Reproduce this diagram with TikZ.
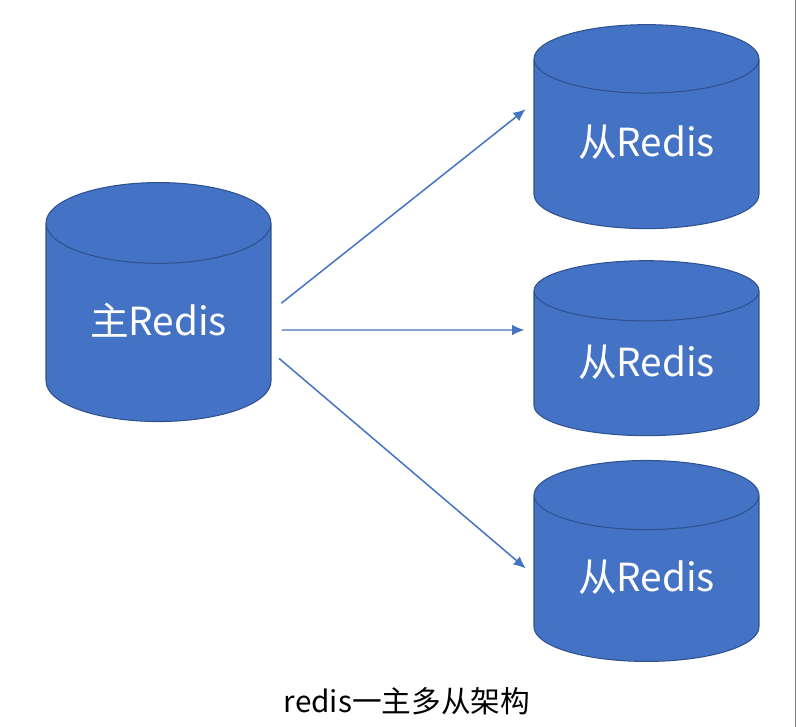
\documentclass[tikz,border=0pt]{standalone}
\usepackage{fontspec}
\setmainfont{Noto Sans CJK SC}
\usetikzlibrary{shapes.geometric}
\usetikzlibrary{arrows.meta}
\usetikzlibrary{calc}
\definecolor{dbfill}{RGB}{68,114,196}
\definecolor{dbline}{RGB}{47,82,143}
\definecolor{rimline}{RGB}{128,128,128}
\tikzset{
    dbnode/.style={cylinder, shape border rotate=90, draw=dbline, line width=0.6pt,
        cylinder uses custom fill, cylinder body fill=dbfill, cylinder end fill=dbfill,
        minimum width=4.5cm, text=white, font=\fontsize{22}{26}\selectfont, inner sep=0pt,
        text height=16pt, text depth=1.5pt},
    link/.style={draw=dbfill, line width=0.85pt, -{Latex[length=7pt,width=6pt]}, shorten <=0.2cm, shorten >=0.2cm},
}
\begin{document}
\begin{tikzpicture}[x=0.02cm, y=-0.02cm]
    \useasboundingbox (0,0) rectangle (796,727);

    % Right rim
    \draw[rimline, line width=0.57pt] (795.5,0) -- (795.5,727);

    % Master
    \node[dbnode, aspect=0.59, minimum height=4.78cm] (master) at (158.5,322.5) {主Redis};

    % Slaves
    \node[dbnode, aspect=0.5, minimum height=4.08cm] (slaveA) at (646.5,144) {从Redis};
    \node[dbnode, aspect=0.44, minimum height=3.5cm] (slaveB) at (646.5,363.5) {从Redis};
    \node[dbnode, aspect=0.505, minimum height=4.02cm] (slaveC) at (646.5,578.5) {从Redis};

    % Edges
    \draw[link, shorten <=0.25cm] ($(master.east)+(0,-11.5)$) -- ($(slaveA.west)+(0,-41)$);
    \draw[link, shorten >=0.18cm] ($(master.east)+(0,7.5)$) -- ($(slaveB.west)+(0,-33.5)$);
    \draw[link] ($(master.east)+(0,29.5)$) -- ($(slaveC.west)+(0,-3.5)$);

    \node[inner sep=0pt, font=\fontsize{16.9}{20}\selectfont] (caption) at (407,701) {redis一主多从架构};
\end{tikzpicture}
\end{document}
